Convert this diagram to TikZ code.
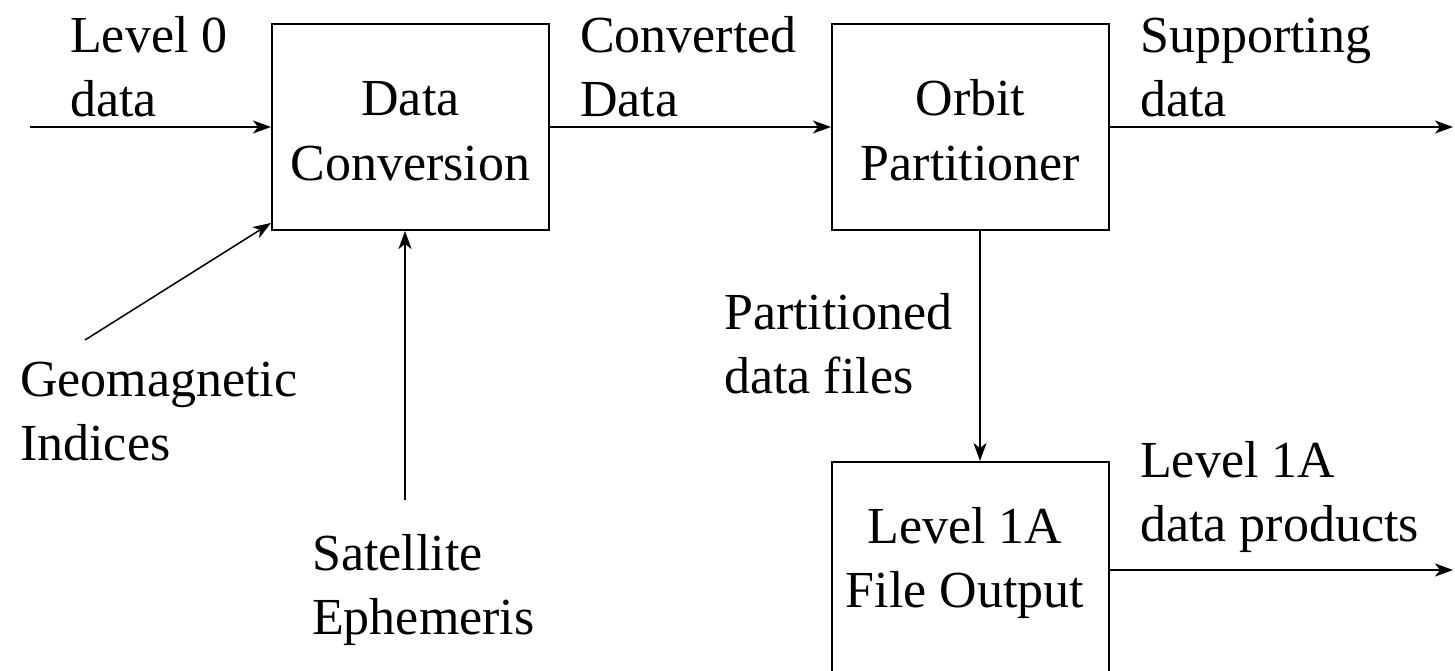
\documentclass[tikz,border=0pt]{standalone}
\usepackage{fontspec}
\setmainfont{Liberation Serif}
\usetikzlibrary{arrows.meta,calc}
\begin{document}
\begin{tikzpicture}[x=1pt,y=-1pt,
  box/.style={draw,line width=2pt,minimum width=277pt,minimum height=206pt,inner sep=0pt,align=center,font=\fontsize{52}{65}\selectfont},
  boxtext/.style={inner sep=0pt,align=center,font=\fontsize{52}{64}\selectfont},
  lbl/.style={anchor=base west,align=left,inner sep=0pt,font=\fontsize{52}{64}\selectfont},
  arr/.style={line width=2pt,-{Stealth[length=18pt,width=13pt,inset=5pt]}}]
\useasboundingbox (0,0) rectangle (1455,670);
\clip (0,0) rectangle (1455,670);
% boxes
\node[box] (dc) at (410.5,127) {\rule{0pt}{42pt}Data\\Conversion};
\node[box] (op) at (970.5,127) {\rule{0pt}{42pt}Orbit\\Partitioner};
\node[box,minimum height=214pt] (lo) at (970.5,569) {};
\node[boxtext] (lot) at (965,563) {Level 1A\\File Output};
% labels (anchored at the baseline of the last line)
\node[lbl] (l0) at (70,116) {Level 0\\data};
\node[lbl] (cd) at (580,116) {Converted\\Data};
\node[lbl] (sd) at (1140,116) {Supporting\\data};
\node[lbl] (gi) at (20,460) {Geomagnetic\\Indices};
\node[lbl] (se) at (312,634) {Satellite\\Ephemeris};
\node[lbl] (pd) at (724,393) {Partitioned\\data files};
\node[lbl] (lp) at (1140,541) {Level 1A\\data products};
% free ends
\coordinate (in0) at (30,127);
\coordinate (out1) at (1453,127);
\coordinate (out2) at (1453,570);
\coordinate (gstart) at (85,340);
\coordinate (sstart) at (405,500);
\coordinate (pcol) at (980,0);
% connectors
\draw[arr] (in0) -- (dc.west);
\draw[arr] (dc.east) -- (op.west);
\draw[arr] (op.east) -- (out1);
\draw[arr,line width=1.5pt] (gstart) -- ($(dc.south west)+(0,-8)$);
\draw[arr] (sstart) -- (sstart |- dc.south);
\draw[arr] (pcol |- op.south) -- (pcol |- lo.north);
\draw[arr] (lo.east |- out2) -- (out2);
\end{tikzpicture}
\end{document}
